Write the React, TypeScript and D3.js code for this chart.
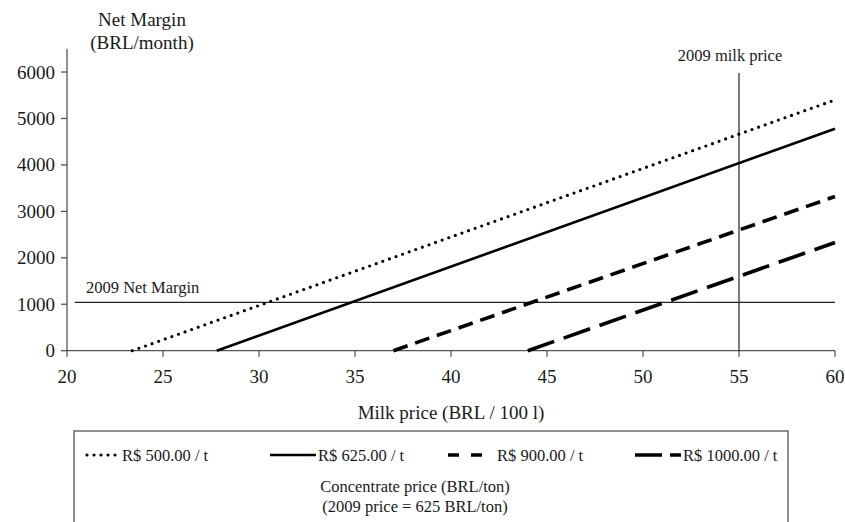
import React from "react";
import * as d3 from "d3";

const xTicks = [20, 25, 30, 35, 40, 45, 50, 55, 60];
const yTicks = [0, 1000, 2000, 3000, 4000, 5000, 6000];

const seriesNames = ["R$ 500.00 / t", "R$ 625.00 / t", "R$ 900.00 / t", "R$ 1000.00 / t"];
const seriesMilkPrice = [
  [23.4, 60],
  [27.8, 60],
  [37.0, 60],
  [44.0, 60],
];
const seriesMargin = [
  [0, 5400],
  [0, 4780],
  [0, 3320],
  [0, 2330],
];

const milkPrice2009 = 55;
const netMargin2009 = 1040;

const W = 845;
const H = 522;
const FONT = "'Liberation Serif', 'Times New Roman', serif";

const styles = [
  { dash: "0 7", width: 3.2, cap: "round" },
  { dash: "", width: 2.6, cap: "butt" },
  { dash: "15 8", width: 3.6, cap: "butt" },
  { dash: "28 10", width: 3.6, cap: "butt" },
];

const legendSample = [
  [87, 121],
  [270, 316],
  [448, 487],
  [635, 681],
];
const legendDash = ["0 7", "", "11 12", "27 8"];
const legendText = [122, 318, 497, 683];

export default function App() {
  const x = d3.scaleLinear().domain([20, 60]).range([67, 835]);
  const y = d3.scaleLinear().domain([0, 6500]).range([350.7, 48.8]);
  const line = d3
    .line<[number, number]>()
    .x((d) => x(d[0]))
    .y((d) => y(d[1]));
  const axisColor = "#555";
  const txt = "#1a1a1a";

  return (
    <svg
      width={W}
      height={H}
      style={{ position: "absolute", left: 0, top: 0, background: "#fff" }}
      fontFamily={FONT}
    >
      <rect x={0} y={0} width={W} height={H} fill="#fff" />
      {/* y axis title */}
      <text x={142} y={26} fontSize={19} textAnchor="middle" fill={txt}>
        Net Margin
      </text>
      <text x={142} y={49} fontSize={19} textAnchor="middle" fill={txt}>
        (BRL/month)
      </text>

      {/* y axis */}
      <line x1={x(20)} x2={x(20)} y1={y(6500)} y2={y(0)} stroke={axisColor} strokeWidth={1.3} />
      {yTicks.map((t) => (
        <g key={"y" + t}>
          <line x1={x(20) - 6} x2={x(20)} y1={y(t)} y2={y(t)} stroke={axisColor} strokeWidth={1.3} />
          <text x={x(20) - 12} y={y(t) + 6.5} fontSize={19} textAnchor="end" fill={txt}>
            {t}
          </text>
        </g>
      ))}

      {/* x axis */}
      <line x1={x(20)} x2={x(60)} y1={y(0)} y2={y(0)} stroke={axisColor} strokeWidth={1.3} />
      {xTicks.map((t) => (
        <g key={"x" + t}>
          <line x1={x(t)} x2={x(t)} y1={y(0)} y2={y(0) + 6} stroke={axisColor} strokeWidth={1.3} />
          <text x={x(t)} y={383} fontSize={19} textAnchor="middle" fill={txt}>
            {t}
          </text>
        </g>
      ))}
      <text x={(x(20) + x(60)) / 2} y={419} fontSize={19} textAnchor="middle" fill={txt}>
        Milk price (BRL / 100 l)
      </text>

      {/* reference lines */}
      <line
        x1={x(milkPrice2009)}
        x2={x(milkPrice2009)}
        y1={y(6000) + 1}
        y2={y(0)}
        stroke="#222"
        strokeWidth={1.2}
      />
      <text x={x(milkPrice2009) - 9} y={61} fontSize={16.5} textAnchor="middle" fill={txt}>
        2009 milk price
      </text>
      <line
        x1={x(20.4)}
        x2={x(60)}
        y1={y(netMargin2009)}
        y2={y(netMargin2009)}
        stroke="#222"
        strokeWidth={1.2}
      />
      <text x={86} y={293} fontSize={16.5} fill={txt}>
        2009 Net Margin
      </text>

      {/* series */}
      {seriesNames.map((name, i) => {
        const pts = seriesMilkPrice[i].map((m, j) => [m, seriesMargin[i][j]] as [number, number]);
        return (
          <path
            key={name}
            d={line(pts) || ""}
            fill="none"
            stroke="#000"
            strokeWidth={styles[i].width}
            strokeDasharray={styles[i].dash || undefined}
            strokeLinecap={styles[i].cap as any}
          />
        );
      })}

      {/* legend */}
      <rect x={74} y={431} width={714} height={140} fill="none" stroke={axisColor} strokeWidth={1.3} />
      {seriesNames.map((name, i) => (
        <g key={"lg" + name}>
          <line
            x1={legendSample[i][0]}
            x2={legendSample[i][1]}
            y1={455}
            y2={455}
            stroke="#000"
            strokeWidth={styles[i].width}
            strokeDasharray={legendDash[i] || undefined}
            strokeLinecap={styles[i].cap as any}
          />
          <text x={legendText[i]} y={461} fontSize={16.5} fill={txt}>
            {name}
          </text>
        </g>
      ))}
      <text x={415} y={492} fontSize={16.5} textAnchor="middle" fill={txt}>
        Concentrate price (BRL/ton)
      </text>
      <text x={415} y={512} fontSize={16.5} textAnchor="middle" fill={txt}>
        (2009 price = 625 BRL/ton)
      </text>
    </svg>
  );
}
